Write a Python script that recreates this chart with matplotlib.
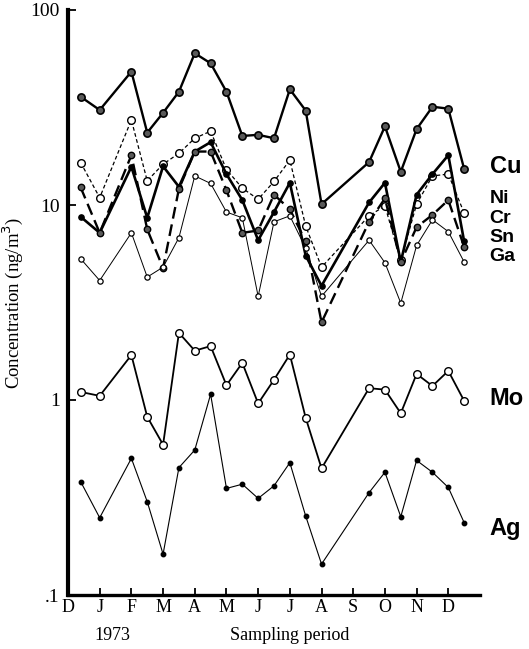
import matplotlib
matplotlib.use("Agg")
import matplotlib.pyplot as plt
import numpy as np

# sampling positions, in months counted from December 1972
months = ['D', 'J', 'F', 'M', 'A', 'M', 'J', 'J', 'A', 'S', 'O', 'N', 'D']
xs = [0.4, 1, 2, 2.5, 3, 3.5, 4, 4.5, 5, 5.5, 6, 6.5, 7, 7.5, 8,
      9.5, 10, 10.5, 11, 11.5, 12, 12.5]

# concentrations (ng/m3)
cu = [35.9, 30.7, 48.3, 23.5, 29.7, 38.1, 60.0, 53.3, 38.1, 22.6, 22.9, 22.0,
      39.2, 30.5, 10.1, 16.6, 25.3, 14.8, 24.5, 31.9, 31.2, 15.3]
ni = [16.5, 10.9, 27.3, 13.3, 16.2, 18.4, 22.0, 23.9, 15.2, 12.2, 10.7, 13.2,
      17.0, 7.8, 4.8, 8.8, 9.9, 5.2, 10.1, 14.1, 14.4, 9.1]
cr = [8.7, 7.2, 15.7, 8.6, 15.8, 12.4, 18.8, 21.0, 14.4, 10.6, 6.6, 9.2,
      13.0, 5.5, 3.85, 10.3, 13.0, 5.1, 11.3, 14.4, 18.0, 6.5]
sn = [12.3, 7.2, 18.0, 7.5, 4.75, 12.1, 18.8, 18.8, 11.9, 7.2, 7.4, 11.3,
      9.5, 6.5, 2.5, 8.2, 10.8, 5.1, 7.7, 8.9, 10.6, 6.1]
ga = [5.3, 4.1, 7.2, 4.27, 4.8, 6.8, 14.1, 12.9, 9.2, 8.6, 3.4, 8.2,
      8.8, 6.0, 3.4, 6.6, 5.06, 3.14, 6.2, 8.4, 7.3, 5.1]
mo = [1.10, 1.05, 1.70, 0.82, 0.59, 2.21, 1.79, 1.89, 1.19, 1.55, 0.96, 1.27,
      1.71, 0.81, 0.446, 1.15, 1.13, 0.855, 1.36, 1.18, 1.41, 0.99]
ag = [0.381, 0.249, 0.502, 0.301, 0.162, 0.45, 0.554, 1.07, 0.352, 0.37, 0.313,
      0.363, 0.477, 0.254, 0.144, 0.335, 0.426, 0.252, 0.49, 0.426, 0.356, 0.235]

names = ['Cu', 'Ni', 'Cr', 'Sn', 'Ga', 'Mo', 'Ag']
label_y = [15.7, 10.75, 8.55, 6.85, 5.47, 1.02, 0.22]

serif = 'Liberation Serif'

fig = plt.figure(figsize=(5.29, 6.49), dpi=100)
ax = fig.add_axes([68/529, 1-595/649, (480-68)/529, (595-10)/649])
ax.set_yscale('log')
ax.set_xlim(0, 13.0)
ax.set_ylim(0.1, 100)

k = 'black'
ax.plot(xs, cu, '-', color=k, lw=1.7, marker='o', ms=5.2, mfc='0.35', mec=k, mew=1.2)
ax.plot(xs, ni, '--', color=k, lw=0.9, dashes=(3, 2), marker='o', ms=5.5, mfc='white', mec=k, mew=1.0)
ax.plot(xs, cr, '-', color=k, lw=1.9, marker='o', ms=3.8, mfc=k, mec=k)
ax.plot(xs, sn, '--', color=k, lw=1.7, dashes=(5, 2.5), marker='o', ms=4.6, mfc='0.35', mec=k, mew=1.0)
ax.plot(xs, ga, '-', color=k, lw=0.7, marker='o', ms=3.8, mfc='white', mec=k, mew=0.9)
ax.plot(xs, mo, '-', color=k, lw=1.3, marker='o', ms=5.5, mfc='white', mec=k, mew=1.0)
ax.plot(xs, ag, '-', color=k, lw=0.8, marker='o', ms=3.2, mfc=k, mec=k)

for name, y in zip(names, label_y):
    size = 14 if name in ('Ni', 'Cr', 'Sn', 'Ga') else 17
    ax.text(13.3, y, name, fontsize=size, fontweight='bold', family='Liberation Sans',
            va='center', ha='left', clip_on=False)

for s in ['top', 'right']:
    ax.spines[s].set_visible(False)
ax.spines['left'].set_linewidth(3.0)
ax.spines['bottom'].set_linewidth(2.4)

ax.set_xticks(range(len(months)))
ax.set_xticklabels(months, family=serif, fontsize=13)
ax.tick_params(axis='x', direction='in', length=5, width=1.3, pad=3)

ax.set_yticks([0.1, 1, 10, 100])
ax.set_yticklabels(['.1', '1', '10', '100'], family=serif, fontsize=14)
ax.yaxis.set_minor_locator(matplotlib.ticker.NullLocator())
ax.tick_params(axis='y', direction='in', length=6, width=1.3, pad=6)

ax.set_ylabel('Concentration (ng/m$^3$)', family=serif, fontsize=13.5, labelpad=4)

fig.text(112/529, 1-636/649, '1973', family=serif, fontsize=13, ha='center', va='center')
fig.text(290/529, 1-636/649, 'Sampling period', family=serif, fontsize=13, ha='center', va='center')

fig.savefig('out.png', dpi=100)
